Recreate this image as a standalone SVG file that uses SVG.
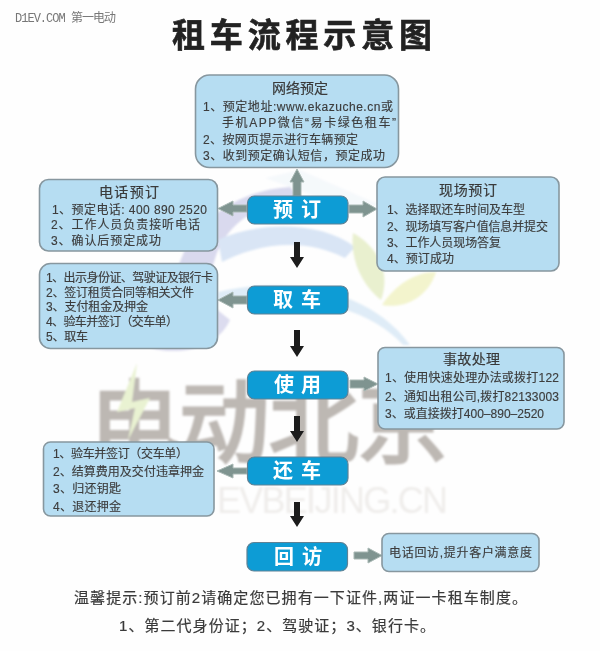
<svg xmlns="http://www.w3.org/2000/svg" width="600" height="651" viewBox="0 0 600 651">
<style>
text{font-family:"Liberation Sans","Noto Sans CJK SC",sans-serif;}
.b{fill:#b6ddf2;stroke:#87979f;stroke-width:1.6;}
.n{fill:#0a9cd5;stroke:#5f8295;stroke-width:1.2;}
.t{font-size:12px;fill:#3c3c3c;stroke:#3c3c3c;stroke-width:0.15;}
.h{font-size:14px;fill:#3a3a3a;stroke:#3a3a3a;stroke-width:0.2;}
.w{font-size:20px;font-weight:700;fill:#fff;}
.g{fill:#7f9490;stroke:#a9b8b4;stroke-width:1;}
.k{fill:#1c1c1c;}
.f{font-size:15px;fill:#3a3a3a;stroke:#3a3a3a;stroke-width:0.2;}
</style>
<defs>
<filter id="soft" x="-5%" y="-5%" width="110%" height="110%"><feGaussianBlur stdDeviation="0.45"/></filter>
<filter id="soft2" x="-5%" y="-5%" width="110%" height="110%"><feGaussianBlur stdDeviation="1"/></filter>
</defs>
<rect width="600" height="651" fill="#fefefe"/>
<g id="watermark" filter="url(#soft2)">
<path d="M178 268C190 225 235 190 290 187L300 198C260 203 225 222 214 262L202 300L190 300C182 290 176 280 178 268Z" fill="#d9d9ee"/>
<path d="M218 240C255 222 320 220 355 247L345 258C310 240 265 240 222 262Z" fill="#d9e5f5"/>
<path d="M205 300C200 325 190 345 150 348C175 355 215 352 230 320Z" fill="#dcdcef"/>
<path d="M218 292C290 275 370 290 410 345L403 345C365 303 290 292 218 300Z" fill="#dfecf7"/>
<path d="M300 170L265 178L340 205L380 205Z" fill="#eef4f9" opacity="0.5"/>
<path d="M353 233C375 245 392 270 381 300C362 285 350 260 353 233Z" fill="#e9f0cf"/>
<path d="M382 305C395 285 415 272 436 272C430 292 410 310 382 305Z" fill="#f3f4cd"/>
<text x="90" y="455" font-size="90" letter-spacing="0" textLength="358" style="font-family:'Noto Sans CJK SC',sans-serif;font-weight:400;fill:#bdb8b3;stroke:#bdb8b3;stroke-width:3">电动北京</text>
<polygon points="137,363 117,412 135,408 128,440 150,398 132,402" fill="#e9f2d2"/>
<text x="217" y="513" font-size="36" textLength="231" style="fill:#efedeb">EVBEIJING.CN</text>
</g>
<g filter="url(#soft)">
<g id="header">
<text x="15" y="22" textLength="101" style="font-family:'Liberation Mono','Noto Sans CJK SC',monospace;font-size:12px;fill:#777">D1EV.COM 第一电动</text>
<text x="172" y="47" textLength="260" style="font-size:33px;font-weight:700;fill:#222;stroke:#222;stroke-width:0.6">租车流程示意图</text>
</g>
<g id="connectors">
<path class="g" d="M293 196V182H290L297 169L304 182H301V196Z"/>
<path class="g" d="M247 205V212H233V216L218 208.500L233 201V205Z"/>
<path class="g" d="M349 205V213H363V217L377 209L363 201V205Z"/>
<path class="g" d="M247 296V304H233V308L218 300L233 292V296Z"/>
<path class="g" d="M350 380V388H364V391L378 384L364 377V380Z"/>
<path class="g" d="M247 468V474H233V478L217 471L233 464V468Z"/>
<path class="g" d="M354 552V559H368V563L382 555.500L368 548V552Z"/>
<path class="k" d="M294 242H300V257H304L297 268L290 257H294Z"/>
<path class="k" d="M294 330H300V346H304L297 357L290 346H294Z"/>
<path class="k" d="M294 416H300V431H304L297 442L290 431H294Z"/>
<path class="k" d="M294 502H300V516H304L297 527L290 516H294Z"/>
</g>
<g id="box-wangluo">
<rect class="b" x="195.500" y="75" width="203" height="92.500" rx="14"/>
<text class="h" x="272" y="93" textLength="56">网络预定</text>
<text class="t" x="203" y="111" textLength="190">1、预定地址:www.ekazuche.cn或</text>
<text class="t" x="222" y="127" textLength="174">手机APP微信“易卡绿色租车”</text>
<text class="t" x="203" y="144" textLength="155">2、按网页提示进行车辆预定</text>
<text class="t" x="203" y="160" textLength="182">3、收到预定确认短信，预定成功</text>
</g>
<g id="box-dianhua">
<rect class="b" x="39.500" y="179.500" width="178" height="71.500" rx="9"/>
<text class="h" x="99" y="197" textLength="60">电话预订</text>
<text class="t" x="52" y="214" textLength="155">1、预定电话: 400 890 2520</text>
<text class="t" x="51" y="229" textLength="149">2、工作人员负责接听电话</text>
<text class="t" x="51" y="245" textLength="110">3、确认后预定成功</text>
</g>
<g id="box-xianchang">
<rect class="b" x="377" y="177" width="182" height="94" rx="8"/>
<text class="h" x="439" y="195" textLength="58">现场预订</text>
<text class="t" x="387" y="214" textLength="138">1、选择取还车时间及车型</text>
<text class="t" x="387" y="231" textLength="161">2、现场填写客户值信息并提交</text>
<text class="t" x="387" y="247" textLength="114">3、工作人员现场答复</text>
<text class="t" x="387" y="263" textLength="67">4、预订成功</text>
</g>
<g id="box-quche">
<rect class="b" x="39.500" y="263.500" width="178" height="85" rx="11"/>
<text class="t" x="46" y="282" textLength="167">1、出示身份证、驾驶证及银行卡</text>
<text class="t" x="46" y="297" textLength="148">2、签订租赁合同等相关文件</text>
<text class="t" x="46" y="311" textLength="102">3、支付租金及押金</text>
<text class="t" x="46" y="326" textLength="132">4、验车并签订（交车单）</text>
<text class="t" x="46" y="341" textLength="42">5、取车</text>
</g>
<g id="box-shigu">
<rect class="b" x="378" y="347.500" width="186" height="81.500" rx="7"/>
<text class="h" x="443" y="364" textLength="57">事故处理</text>
<text class="t" x="385" y="382" textLength="174">1、使用快速处理办法或拨打122</text>
<text class="t" x="385" y="401" textLength="174">2、通知出租公司,拨打82133003</text>
<text class="t" x="385" y="418" textLength="159">3、或直接拨打400–890–2520</text>
</g>
<g id="box-huanche">
<rect class="b" x="43.500" y="442" width="170.500" height="74" rx="7"/>
<text class="t" x="53" y="458" textLength="135">1、验车并签订（交车单）</text>
<text class="t" x="53" y="476" textLength="151">2、结算费用及交付违章押金</text>
<text class="t" x="53" y="493" textLength="68">3、归还钥匙</text>
<text class="t" x="53" y="511" textLength="68">4、退还押金</text>
</g>
<g id="box-huifang">
<rect class="b" x="382" y="533.500" width="157" height="38" rx="7"/>
<text class="t" x="389" y="557" textLength="143">电话回访,提升客户满意度</text>
</g>
<g id="node-yuding"><rect class="n" x="247.500" y="196" width="100.500" height="28" rx="7"/><text class="w" x="273" y="217" textLength="48">预 订</text></g>
<g id="node-quche"><rect class="n" x="247.500" y="286" width="100.500" height="28" rx="7"/><text class="w" x="273" y="307" textLength="48">取 车</text></g>
<g id="node-shiyong"><rect class="n" x="247.500" y="371" width="100.500" height="28" rx="7"/><text class="w" x="274" y="392" textLength="47">使 用</text></g>
<g id="node-huanche"><rect class="n" x="247.500" y="457" width="100.500" height="28" rx="7"/><text class="w" x="273" y="478" textLength="48">还 车</text></g>
<g id="node-huifang"><rect class="n" x="247" y="542.500" width="100.500" height="28.500" rx="7"/><text class="w" x="274" y="564" textLength="48">回 访</text></g>
<g id="notes">
<text class="f" x="74" y="603" textLength="453">温馨提示:预订前2请确定您已拥有一下证件,两证一卡租车制度。</text>
<text class="f" x="119" y="631" textLength="316">1、第二代身份证；2、驾驶证；3、银行卡。</text>
</g>
</g>
</svg>
